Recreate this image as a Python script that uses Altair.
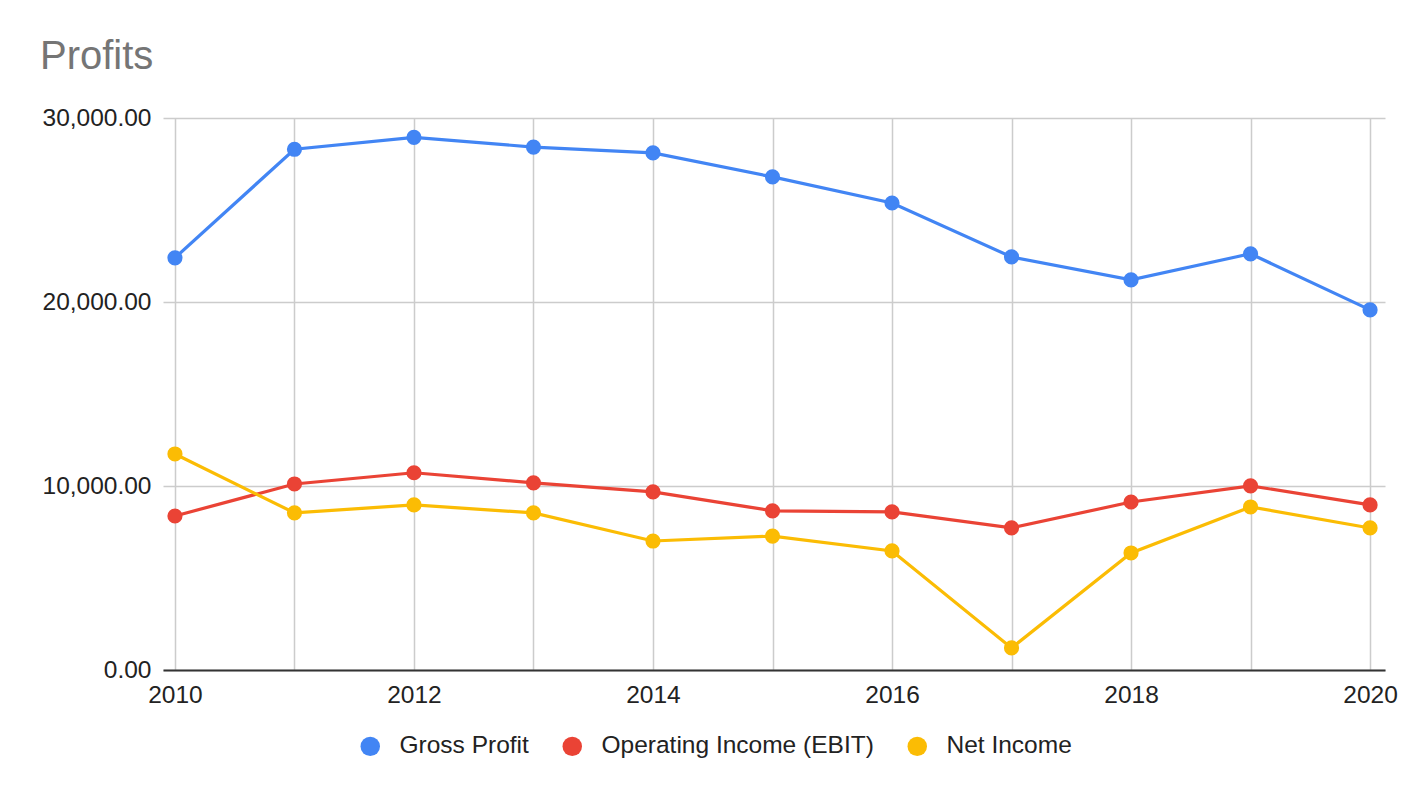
import altair as alt
import pandas as pd

years = [2010, 2011, 2012, 2013, 2014, 2015, 2016, 2017, 2018, 2019, 2020]
gross_profit = [22400, 28300, 28950, 28420, 28100, 26800, 25380, 22450, 21200, 22620, 19570]
operating_income = [8370, 10110, 10720, 10170, 9680, 8650, 8590, 7720, 9130, 10010, 8970]
net_income = [11740, 8540, 8970, 8540, 7010, 7280, 6470, 1200, 6360, 8860, 7720]

series = ["Gross Profit", "Operating Income (EBIT)", "Net Income"]
colors = ["#4285F4", "#EA4335", "#FBBC04"]

rows = []
for name, vals in zip(series, [gross_profit, operating_income, net_income]):
    for y, v in zip(years, vals):
        rows.append({"Year": y, "Value": v, "Series": name})
df = pd.DataFrame(rows)

FONT = "Liberation Sans"
FS = 24.5

x = alt.X(
    "Year:Q",
    scale=alt.Scale(domain=[2009.9, 2020.125], nice=False, zero=False),
    axis=alt.Axis(
        values=years,
        labelExpr="datum.value % 2 == 0 ? datum.label : ''",
        format="d",
        title=None,
        ticks=False,
        grid=True,
        gridColor="#cccccc",
        gridWidth=1.5,
        domainColor="#333333",
        domainWidth=2,
        labelFontSize=FS,
        labelColor="#222222",
        labelFont=FONT,
        labelPadding=13,
        labelFlush=False,
        labelOverlap=False,
    ),
)
y = alt.Y(
    "Value:Q",
    scale=alt.Scale(domain=[0, 30000], nice=False),
    axis=alt.Axis(
        values=[0, 10000, 20000, 30000],
        format=",.2f",
        title=None,
        ticks=False,
        domain=False,
        grid=True,
        gridColor="#cccccc",
        gridWidth=1.5,
        labelFontSize=FS,
        labelColor="#222222",
        labelFont=FONT,
        labelPadding=12,
    ),
)
color = alt.Color(
    "Series:N",
    scale=alt.Scale(domain=series, range=colors),
    sort=series,
    legend=alt.Legend(
        title=None,
        orient="none",
        direction="horizontal",
        legendX=195,
        legendY=616,
        symbolType="circle",
        symbolSize=380,
        symbolStrokeWidth=0,
        symbolOpacity=1,
        labelFontSize=FS,
        labelFont=FONT,
        labelColor="#222222",
        labelOffset=17,
        labelLimit=600,
        columnPadding=31,
        padding=0,
    ),
)

base = alt.Chart(df).encode(x=x, y=y, color=color)
lines = base.mark_line(strokeWidth=3.2)
points = base.mark_circle(size=230, opacity=1)

chart = (
    alt.layer(lines, points)
    .properties(
        width=1222,
        height=552,
        autosize=alt.AutoSizeParams(type="none"),
        padding={"left": 155, "top": 110, "right": 20, "bottom": 100},
        title=alt.TitleParams(
            "Profits",
            anchor="start",
            frame="group",
            dx=-123,
            fontSize=40,
            font=FONT,
            fontWeight="normal",
            color="#757575",
            offset=28,
        ),
    )
    .configure_view(stroke=None)
)

chart.save("out.html", embed_options={"renderer": "svg", "actions": False})
